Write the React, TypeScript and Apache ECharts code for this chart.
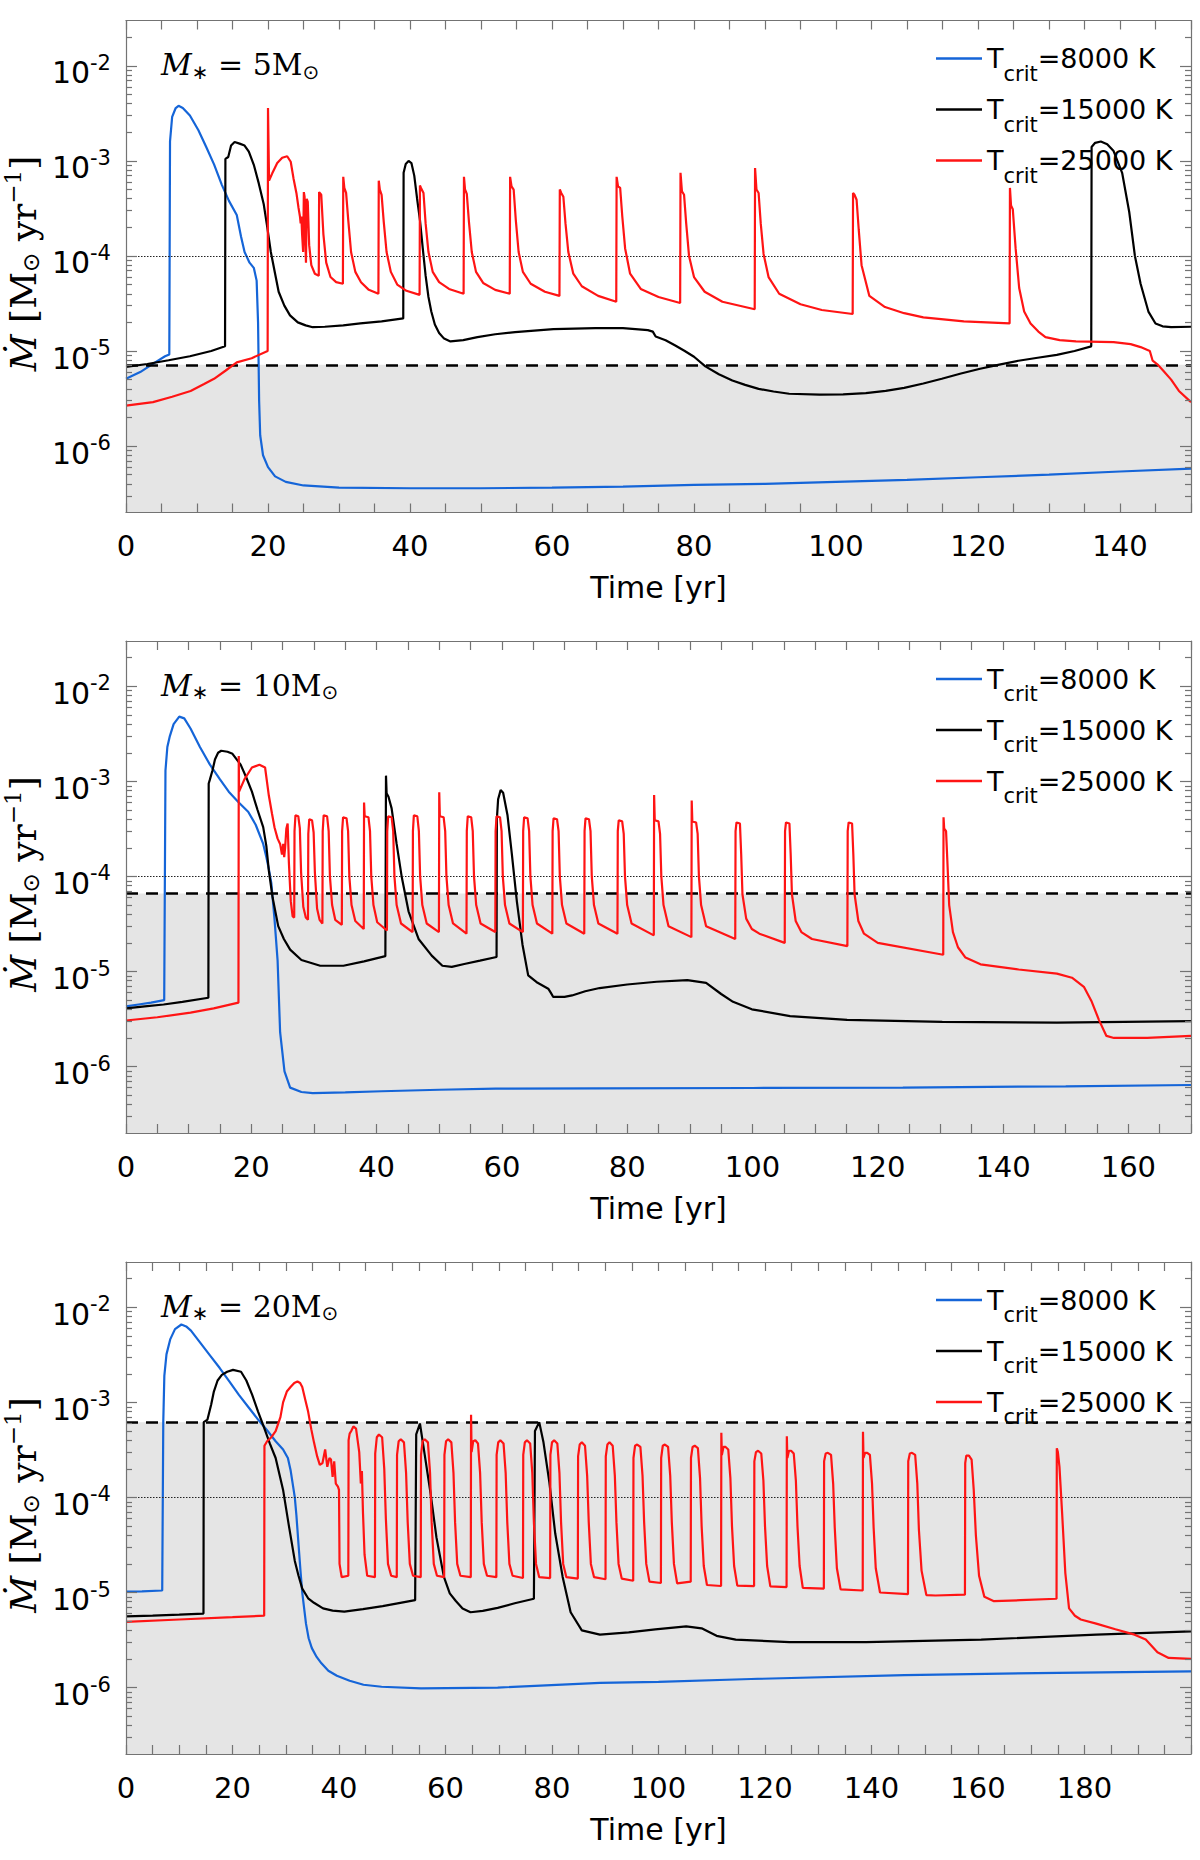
import React, { useEffect, useRef } from 'react';
import * as echarts from 'echarts';

// y range of every panel, in M_sun / yr
const Y_MIN = 2e-7;
const Y_MAX = 3e-2;

const legendNames = ['T_crit=8000 K', 'T_crit=15000 K', 'T_crit=25000 K'];
const lineColors = ['#1565d8', '#000000', '#ff1414'];
const panelMasses = ['5', '10', '20'];
const xMaxes = [150, 170, 200];
const xLabels1 = [0, 20, 40, 60, 80, 100, 120, 140];
const xLabels2 = [0, 20, 40, 60, 80, 100, 120, 140, 160];
const xLabels3 = [0, 20, 40, 60, 80, 100, 120, 140, 160, 180];
const yTickExps = [-6, -5, -4, -3, -2];
const thresholds = [7.15e-6, 6.6e-5, 6.2e-4]; // dashed line = top of the grey band
const refLine = 1e-4; // dotted line

// ---- M* = 5 Msun ----
const p1Blue: [number, number][] = [
  [0, 5.1e-6], [2, 6.0e-6], [4, 7.5e-6], [5.5, 8.8e-6], [6.1, 9.2e-6], [6.2, 1.6e-3], [6.5, 2.9e-3], [7.0, 3.6e-3],
  [7.4, 3.8e-3], [8.0, 3.6e-3], [9.0, 3.0e-3], [10.2, 2.1e-3], [11.3, 1.4e-3], [12.4, 9.2e-4], [13.5, 5.6e-4],
  [14.5, 3.8e-4], [15.6, 2.7e-4], [16.2, 1.6e-4], [16.7, 1.1e-4], [17.4, 8.5e-5], [18.0, 7.5e-5], [18.4, 5.5e-5],
  [18.6, 2.0e-5], [18.75, 3.0e-6], [18.9, 1.3e-6], [19.3, 8.0e-7], [20, 6.0e-7], [21, 4.8e-7], [22.5, 4.2e-7],
  [25, 3.85e-7], [30, 3.65e-7], [40, 3.6e-7], [50, 3.6e-7], [60, 3.65e-7], [70, 3.75e-7], [80, 3.9e-7], [90, 4.0e-7],
  [100, 4.2e-7], [110, 4.4e-7], [120, 4.7e-7], [130, 5.0e-7], [140, 5.4e-7], [150, 5.8e-7],
];
const p1Black: [number, number][] = [
  [0, 6.8e-6], [3, 7.3e-6], [6, 8.0e-6], [9, 8.8e-6], [12, 1.0e-5], [13.95, 1.12e-5],
  [14.0, 1.05e-3], [14.4, 1.1e-3], [14.8, 1.45e-3], [15.3, 1.58e-3], [16.0, 1.52e-3], [16.7, 1.45e-3], [17.3, 1.25e-3],
  [18.0, 9.1e-4], [18.7, 5.8e-4], [19.4, 3.5e-4], [19.9, 2.0e-4], [20.4, 1.1e-4], [21.0, 6.5e-5], [21.5, 4.2e-5],
  [22.3, 3.0e-5], [23.1, 2.37e-5], [24.2, 2.0e-5], [25.3, 1.86e-5], [26.3, 1.78e-5], [28.0, 1.8e-5], [30.6, 1.86e-5],
  [33.0, 1.95e-5], [36.0, 2.05e-5], [39.05, 2.2e-5],
  [39.1, 7.5e-4], [39.4, 9.3e-4], [39.8, 1.0e-3], [40.2, 9.5e-4], [40.6, 7.0e-4], [41.0, 4.0e-4], [41.4, 2.4e-4],
  [41.8, 1.2e-4], [42.2, 6.2e-5], [42.6, 3.7e-5], [43.0, 2.6e-5], [43.5, 1.9e-5], [44.1, 1.55e-5], [44.8, 1.35e-5],
  [45.7, 1.26e-5], [47.5, 1.3e-5], [49.5, 1.4e-5], [52.0, 1.5e-5], [54.8, 1.58e-5], [60.2, 1.7e-5], [66.1, 1.74e-5],
  [70.0, 1.74e-5], [73.5, 1.66e-5], [74.2, 1.6e-5], [74.6, 1.42e-5], [76.0, 1.3e-5], [77.3, 1.15e-5], [78.7, 1.0e-5],
  [80.0, 8.7e-6], [81.6, 6.9e-6], [83.5, 5.7e-6], [85.4, 4.9e-6], [87.2, 4.4e-6], [89.1, 4.0e-6], [91.2, 3.75e-6],
  [93.4, 3.55e-6], [97.7, 3.47e-6], [101.0, 3.5e-6], [104.2, 3.6e-6], [107.0, 3.8e-6], [109.6, 4.1e-6],
  [112.3, 4.55e-6], [114.9, 5.1e-6], [117.6, 5.8e-6], [120.3, 6.5e-6], [123.0, 7.2e-6], [125.7, 7.9e-6],
  [128.4, 8.5e-6], [131.1, 9.1e-6], [133.6, 1.0e-5], [135.95, 1.12e-5],
  [136.0, 1.4e-3], [136.5, 1.55e-3], [137.3, 1.6e-3], [138.2, 1.5e-3], [139.1, 1.27e-3], [140.3, 7.5e-4],
  [141.3, 2.9e-4], [142.1, 1.0e-4], [142.9, 5.1e-5], [144.0, 2.6e-5], [145.0, 1.95e-5], [146.0, 1.82e-5],
  [147.2, 1.78e-5], [150, 1.8e-5],
];
const p1Red: [number, number][] = [
  [0, 2.66e-6], [3.8, 2.9e-6], [6.5, 3.3e-6], [9.1, 3.8e-6], [11, 4.5e-6], [12.4, 5.1e-6], [14, 6.2e-6],
  [15.6, 7.6e-6], [17.7, 8.4e-6], [19.95, 1.0e-5],
  [20.0, 3.6e-3], [20.08, 1.4e-3], [20.15, 6.2e-4], [20.6, 7.4e-4], [21.3, 9.5e-4], [22.0, 1.08e-3], [22.7, 1.12e-3],
  [23.2, 9.8e-4], [23.6, 6.5e-4], [24.0, 4.6e-4], [24.3, 3.2e-4], [24.5, 2.6e-4], [24.6, 2.2e-4], [24.7, 2.6e-4],
  [24.8, 1.7e-4], [24.95, 1.1e-4], [25.05, 4.7e-4], [25.15, 4.2e-4], [25.25, 1.5e-4], [25.35, 8.5e-5],
  [25.45, 4.0e-4], [25.6, 3.7e-4], [25.8, 1.3e-4], [26.1, 8.0e-5], [26.6, 6.5e-5], [27.15, 6.2e-5],
  [27.2, 4.7e-4], [27.5, 4.4e-4], [27.8, 1.7e-4], [28.2, 8.5e-5], [28.8, 6.0e-5], [29.6, 5.3e-5], [30.55, 5.1e-5],
  [30.6, 6.8e-4], [30.75, 5.2e-4], [31.0, 4.6e-4], [31.3, 2.4e-4], [31.7, 1.1e-4], [32.3, 6.8e-5], [33.1, 5.3e-5],
  [34.2, 4.4e-5], [35.55, 4.0e-5],
  [35.6, 6.2e-4], [35.75, 5.0e-4], [36.0, 4.4e-4], [36.3, 2.3e-4], [36.7, 1.1e-4], [37.3, 6.8e-5], [38.2, 5.0e-5],
  [39.5, 4.3e-5], [41.35, 3.9e-5],
  [41.4, 5.5e-4], [41.55, 5.2e-4], [41.9, 4.6e-4], [42.2, 2.2e-4], [42.6, 1.1e-4], [43.2, 6.8e-5], [44.1, 5.3e-5],
  [45.5, 4.5e-5], [47.55, 4.0e-5],
  [47.6, 6.8e-4], [47.75, 5.0e-4], [48.0, 4.5e-4], [48.3, 2.3e-4], [48.7, 1.1e-4], [49.3, 6.8e-5], [50.3, 5.2e-5],
  [52.0, 4.4e-5], [54.05, 4.0e-5],
  [54.1, 6.8e-4], [54.3, 5.4e-4], [54.6, 5.0e-4], [54.9, 2.4e-4], [55.3, 1.1e-4], [55.9, 6.8e-5], [57.0, 5.1e-5],
  [59.0, 4.2e-5], [61.05, 3.8e-5],
  [61.1, 5.0e-4], [61.3, 4.6e-4], [61.6, 4.2e-4], [61.9, 2.2e-4], [62.3, 1.1e-4], [63.0, 6.5e-5], [64.2, 4.8e-5],
  [66.5, 3.8e-5], [69.05, 3.3e-5],
  [69.1, 6.8e-4], [69.3, 5.4e-4], [69.6, 5.2e-4], [69.9, 2.6e-4], [70.3, 1.2e-4], [71.0, 6.5e-5], [72.5, 4.5e-5],
  [75.0, 3.7e-5], [78.05, 3.2e-5],
  [78.1, 7.5e-4], [78.3, 4.8e-4], [78.6, 4.4e-4], [78.9, 2.2e-4], [79.3, 1.0e-4], [80.0, 6.0e-5], [81.5, 4.2e-5],
  [84.0, 3.3e-5], [88.55, 2.75e-5],
  [88.6, 8.4e-4], [88.8, 5.0e-4], [89.1, 4.6e-4], [89.4, 2.2e-4], [89.8, 1.05e-4], [90.5, 6.0e-5], [92.0, 4.0e-5],
  [95.0, 3.1e-5], [98.0, 2.7e-5], [102.35, 2.45e-5],
  [102.4, 4.6e-4], [102.6, 4.4e-4], [102.9, 3.9e-4], [103.2, 1.9e-4], [103.6, 8.0e-5], [104.7, 3.8e-5],
  [106.9, 2.9e-5], [109.6, 2.5e-5], [112.3, 2.26e-5], [118.0, 2.05e-5], [124.45, 1.95e-5],
  [124.5, 5.2e-4], [124.65, 3.4e-4], [124.9, 3.1e-4], [125.3, 1.2e-4], [125.8, 4.6e-5], [126.5, 2.6e-5],
  [127.4, 1.95e-5], [128.5, 1.6e-5], [129.5, 1.4e-5], [131.5, 1.3e-5], [133.8, 1.26e-5], [139.1, 1.24e-5],
  [141.5, 1.18e-5], [142.9, 1.1e-5], [144.2, 1.0e-5], [144.6, 7.9e-6], [145.3, 7.2e-6], [146.1, 6.2e-6],
  [147.2, 5.0e-6], [148.3, 3.8e-6], [150, 2.9e-6],
];

// ---- M* = 10 Msun ----
const p2Blue: [number, number][] = [
  [0, 4.3e-6], [2, 4.5e-6], [4, 4.7e-6], [6.1, 5.0e-6], [6.3, 1.3e-3], [6.6, 2.3e-3], [7.0, 3.0e-3], [7.6, 4.0e-3],
  [8.5, 4.8e-3], [9.3, 4.6e-3], [10.3, 3.6e-3], [11.8, 2.3e-3], [13.4, 1.5e-3], [15.0, 1.05e-3], [16.4, 7.8e-4],
  [18.0, 6.0e-4], [19.5, 4.8e-4], [20.7, 3.5e-4], [21.9, 2.2e-4], [22.4, 1.6e-4], [22.8, 1.2e-4], [23.2, 8.5e-5],
  [23.7, 3.6e-5], [24.2, 1.3e-5], [24.6, 2.3e-6], [25.3, 8.9e-7], [26.2, 6.0e-7], [28, 5.4e-7], [29.8, 5.25e-7],
  [35, 5.35e-7], [40.8, 5.5e-7], [50, 5.7e-7], [59, 5.85e-7], [75.6, 5.9e-7], [100, 5.95e-7], [124, 6.0e-7],
  [150, 6.2e-7], [170, 6.4e-7],
];
const p2Black: [number, number][] = [
  [0, 4.1e-6], [3, 4.3e-6], [6, 4.5e-6], [9, 4.8e-6], [13.15, 5.3e-6],
  [13.2, 9.5e-4], [13.4, 1.05e-3], [13.8, 1.3e-3], [14.2, 1.7e-3], [14.7, 2.0e-3], [15.2, 2.1e-3], [16.2, 2.05e-3],
  [17.0, 1.95e-3], [18.3, 1.5e-3], [19.2, 1.1e-3], [20.1, 7.8e-4], [21.0, 5.0e-4], [21.9, 3.3e-4], [22.4, 2.1e-4],
  [22.8, 1.15e-4], [23.4, 6.0e-5], [24.3, 3.0e-5], [25.2, 2.2e-5], [26.2, 1.7e-5], [28.0, 1.32e-5], [31.0, 1.15e-5],
  [34.7, 1.15e-5], [38.0, 1.28e-5], [41.4, 1.45e-5],
  [41.5, 1.15e-3], [41.6, 7.5e-4], [41.9, 6.9e-4], [42.4, 5.2e-4], [43.2, 2.2e-4], [44.0, 1.0e-4], [45.1, 4.3e-5],
  [46.7, 2.2e-5], [48.8, 1.47e-5], [50.5, 1.15e-5], [52.0, 1.12e-5], [54.0, 1.2e-5], [56.5, 1.3e-5], [59.15, 1.42e-5],
  [59.2, 4.0e-4], [59.4, 6.5e-4], [59.8, 8.1e-4], [60.2, 7.6e-4], [60.9, 4.4e-4], [61.6, 1.7e-4], [62.4, 5.4e-5],
  [63.3, 1.9e-5], [64.2, 9.1e-6], [65.7, 7.6e-6], [67.4, 6.6e-6], [67.8, 6.0e-6], [68.2, 5.4e-6], [70.0, 5.4e-6],
  [71.2, 5.6e-6], [73.3, 6.2e-6], [75.6, 6.7e-6], [80, 7.3e-6], [84.7, 7.8e-6], [89.6, 8.1e-6], [92.6, 7.6e-6],
  [95.0, 5.8e-6], [96.9, 4.8e-6], [99.9, 4.0e-6], [106, 3.4e-6], [115.1, 3.1e-6], [130.3, 2.95e-6], [148.6, 2.9e-6],
  [170, 3.0e-6],
];
const p2Red: [number, number][] = [
  [0, 3.05e-6], [5, 3.3e-6], [10.3, 3.7e-6], [14, 4.1e-6], [17.95, 4.7e-6],
  [18.0, 1.85e-3], [18.05, 7.8e-4], [18.9, 1.05e-3], [20.1, 1.4e-3], [21.3, 1.5e-3], [22.2, 1.4e-3], [22.8, 7.1e-4],
  [23.3, 4.6e-4], [23.7, 3.3e-4], [24.2, 2.5e-4], [24.6, 2.2e-4], [24.9, 1.7e-4], [25.1, 2.2e-4], [25.25, 1.6e-4],
  [25.4, 2.0e-4], [25.6, 3.2e-4], [25.8, 3.6e-4], [26.0, 1.4e-4], [26.3, 5.5e-5], [26.6, 3.8e-5], [26.85, 3.7e-5],
  [26.9, 3.0e-4], [27.05, 4.4e-4], [27.5, 4.3e-4], [27.75, 3.2e-4], [27.95, 1.1e-4], [28.3, 4.8e-5], [28.7, 3.7e-5], [29.05, 3.5e-5],
  [29.1, 2.8e-4], [29.25, 4.0e-4], [29.7, 3.9e-4], [29.95, 2.9e-4], [30.15, 1.1e-4], [30.5, 4.6e-5], [30.9, 3.5e-5], [31.35, 3.2e-5],
  [31.4, 3.0e-4], [31.55, 4.4e-4], [32.1, 4.3e-4], [32.35, 3.0e-4], [32.55, 1.0e-4], [32.9, 5.0e-5], [33.4, 3.5e-5], [34.45, 3.1e-5],
  [34.5, 3.0e-4], [34.65, 4.2e-4], [35.2, 4.1e-4], [35.45, 3.0e-4], [35.65, 1.0e-4], [36.0, 5.0e-5], [36.6, 3.4e-5], [37.95, 2.8e-5],
  [38.0, 6.0e-4], [38.1, 4.3e-4], [38.7, 4.2e-4], [38.95, 3.0e-4], [39.15, 1.0e-4], [39.5, 5.0e-5], [40.1, 3.3e-5], [41.65, 2.7e-5],
  [41.7, 3.0e-4], [41.85, 4.3e-4], [42.4, 4.2e-4], [42.65, 3.0e-4], [42.85, 1.0e-4], [43.2, 5.0e-5], [43.9, 3.2e-5], [45.75, 2.6e-5],
  [45.8, 3.0e-4], [45.95, 4.4e-4], [46.5, 4.3e-4], [46.75, 3.0e-4], [46.95, 1.0e-4], [47.3, 5.0e-5], [48.0, 3.2e-5], [49.95, 2.6e-5],
  [50.0, 7.7e-4], [50.1, 4.3e-4], [50.7, 4.2e-4], [50.95, 3.0e-4], [51.15, 1.0e-4], [51.5, 5.0e-5], [52.2, 3.2e-5], [54.35, 2.5e-5],
  [54.4, 3.0e-4], [54.55, 4.3e-4], [55.1, 4.2e-4], [55.35, 3.0e-4], [55.55, 1.0e-4], [55.9, 5.0e-5], [56.6, 3.2e-5], [58.95, 2.6e-5],
  [59.0, 3.0e-4], [59.15, 4.3e-4], [59.7, 4.2e-4], [59.95, 3.0e-4], [60.15, 1.0e-4], [60.5, 5.0e-5], [61.2, 3.2e-5], [63.35, 2.6e-5],
  [63.4, 3.0e-4], [63.55, 4.2e-4], [64.1, 4.1e-4], [64.35, 3.0e-4], [64.55, 1.0e-4], [64.9, 5.0e-5], [65.6, 3.2e-5], [68.05, 2.5e-5],
  [68.1, 3.0e-4], [68.25, 4.1e-4], [68.8, 4.0e-4], [69.05, 3.0e-4], [69.25, 1.0e-4], [69.6, 5.0e-5], [70.3, 3.2e-5], [73.15, 2.5e-5],
  [73.2, 3.0e-4], [73.35, 4.1e-4], [73.9, 4.0e-4], [74.15, 3.0e-4], [74.35, 1.0e-4], [74.7, 5.0e-5], [75.4, 3.2e-5], [78.45, 2.5e-5],
  [78.5, 3.0e-4], [78.65, 3.9e-4], [79.2, 3.8e-4], [79.45, 2.8e-4], [79.65, 1.0e-4], [80.0, 5.0e-5], [80.7, 3.2e-5], [84.25, 2.4e-5],
  [84.3, 7.2e-4], [84.4, 3.9e-4], [85.0, 3.8e-4], [85.25, 2.8e-4], [85.45, 1.0e-4], [85.8, 5.0e-5], [86.6, 3.0e-5], [90.25, 2.3e-5],
  [90.3, 6.3e-4], [90.4, 3.8e-4], [91.0, 3.7e-4], [91.25, 2.8e-4], [91.45, 1.0e-4], [91.8, 5.0e-5], [92.6, 3.0e-5], [97.25, 2.2e-5],
  [97.3, 3.0e-4], [97.45, 3.7e-4], [98.0, 3.6e-4], [98.2, 1.7e-4], [98.4, 6.5e-5], [99.0, 3.6e-5], [99.9, 2.8e-5],
  [101.1, 2.5e-5], [105.15, 2.0e-5],
  [105.2, 3.0e-4], [105.35, 3.7e-4], [105.9, 3.6e-4], [106.1, 1.7e-4], [106.3, 6.5e-5], [106.9, 3.4e-5],
  [107.8, 2.6e-5], [109.5, 2.2e-5], [115.15, 1.85e-5],
  [115.2, 3.0e-4], [115.35, 3.7e-4], [115.9, 3.6e-4], [116.1, 1.7e-4], [116.3, 6.5e-5], [116.9, 3.4e-5],
  [117.8, 2.5e-5], [120, 2.0e-5], [130.45, 1.5e-5],
  [130.5, 4.2e-4], [130.6, 3.2e-4], [130.9, 3.0e-4], [131.1, 1.5e-4], [131.4, 5.0e-5], [132.0, 2.6e-5],
  [132.8, 1.8e-5], [134, 1.4e-5], [136.4, 1.19e-5], [142.5, 1.05e-5], [148.6, 9.5e-6], [151, 8.6e-6],
  [152.9, 6.9e-6], [154.1, 4.9e-6], [155.3, 3.1e-6], [156.5, 2.1e-6], [157.7, 2.0e-6], [163, 2.0e-6], [170, 2.1e-6],
];

// ---- M* = 20 Msun ----
const p3Blue: [number, number][] = [
  [0, 1.02e-5], [3, 1.03e-5], [6.8, 1.05e-5], [7.0, 6.2e-4], [7.2, 1.9e-3], [7.6, 3.2e-3], [8.3, 4.6e-3], [9.2, 5.9e-3],
  [10.4, 6.6e-3], [11.3, 6.3e-3], [12.2, 5.7e-3], [14, 4.2e-3], [15.8, 3.1e-3], [17.6, 2.3e-3], [19.4, 1.66e-3],
  [21.2, 1.2e-3], [23, 8.9e-4], [24.8, 6.6e-4], [26.6, 5.0e-4], [28.1, 3.9e-4], [29.5, 3.2e-4], [30.4, 2.6e-4],
  [30.9, 1.95e-4], [31.3, 1.4e-4], [31.7, 1.0e-4], [32.0, 6.5e-5], [32.4, 3.2e-5], [32.8, 1.6e-5], [33.1, 1.0e-5],
  [33.5, 6.5e-6], [33.8, 4.7e-6], [34.3, 3.3e-6], [34.9, 2.6e-6], [35.8, 2.1e-6], [36.7, 1.8e-6], [38, 1.5e-6],
  [39.6, 1.33e-6], [42, 1.18e-6], [44.6, 1.07e-6], [48, 1.02e-6], [55.4, 9.8e-7], [69.8, 1.0e-6], [89, 1.12e-6],
  [100, 1.15e-6], [117.4, 1.23e-6], [146.2, 1.35e-6], [175, 1.43e-6], [200, 1.48e-6],
];
const p3Black: [number, number][] = [
  [0, 5.6e-6], [5, 5.7e-6], [10, 5.85e-6], [14.55, 6.0e-6],
  [14.6, 6.2e-4], [15.3, 6.6e-4], [16.0, 9.5e-4], [16.5, 1.3e-3], [17.2, 1.7e-3], [18.0, 1.95e-3], [19.0, 2.1e-3],
  [20.1, 2.2e-3], [21.6, 2.1e-3], [22.6, 1.7e-3], [23.7, 1.2e-3], [24.8, 8.0e-4], [25.9, 5.5e-4], [27.0, 3.7e-4],
  [28.1, 2.6e-4], [29.5, 1.2e-4], [30.6, 5.0e-5], [31.7, 2.15e-5], [32.4, 1.5e-5], [33.1, 1.1e-5], [34.2, 8.7e-6],
  [35.3, 7.8e-6], [37, 6.8e-6], [38.8, 6.45e-6], [41, 6.3e-6], [44.5, 6.7e-6], [48.2, 7.2e-6], [51, 7.7e-6],
  [54.3, 8.3e-6],
  [54.5, 4.6e-4], [55.2, 6.0e-4], [56.1, 2.8e-4], [57.2, 1.1e-4], [58.3, 3.8e-5], [59.7, 1.46e-5], [60.8, 9.8e-6],
  [61.9, 8.2e-6], [63.2, 6.8e-6], [64.7, 6.2e-6], [67, 6.4e-6], [69.8, 6.9e-6], [73, 7.7e-6], [76.6, 8.6e-6],
  [76.8, 5.0e-4], [77.6, 6.2e-4], [78.4, 3.8e-4], [79.5, 1.45e-4], [80.6, 4.2e-5], [82.0, 1.46e-5], [83.5, 6.2e-6],
  [85.6, 4.0e-6], [89, 3.6e-6], [94.4, 3.8e-6], [99.4, 4.1e-6], [105.2, 4.4e-6], [108.1, 4.2e-6], [110.9, 3.5e-6],
  [114.5, 3.2e-6], [124.6, 3.0e-6], [139, 3.0e-6], [160.6, 3.2e-6], [182.2, 3.6e-6], [200, 3.9e-6],
];
const p3Red: [number, number][] = [
  [0, 4.9e-6], [10, 5.2e-6], [20, 5.5e-6], [25.95, 5.7e-6],
  [26.0, 3.5e-4], [26.5, 3.9e-4], [27.3, 4.3e-4], [28.1, 5.0e-4], [29.0, 7.0e-4], [29.5, 1.0e-3], [30.2, 1.3e-3],
  [30.9, 1.45e-3], [31.6, 1.6e-3], [32.2, 1.66e-3], [32.7, 1.6e-3], [33.1, 1.45e-3], [33.7, 1.05e-3], [34.2, 8.0e-4],
  [34.8, 5.2e-4], [35.3, 3.8e-4], [35.9, 2.7e-4], [36.4, 2.2e-4], [36.9, 2.3e-4], [37.4, 3.2e-4], [37.8, 2.1e-4],
  [38.2, 2.6e-4], [38.5, 2.5e-4], [38.8, 1.65e-4], [39.1, 2.4e-4], [39.4, 1.4e-4], [39.8, 1.3e-4], [40.0, 1.2e-4],
  [40.1, 2.0e-5], [40.5, 1.45e-5], [41.75, 1.5e-5],
  [41.8, 4.0e-4], [42.0, 4.7e-4], [42.3, 5.0e-4], [42.7, 5.6e-4], [43.2, 5.3e-4], [43.8, 3.0e-4], [44.1, 1.4e-4],
  [44.3, 1.9e-4], [44.5, 7.0e-5], [44.8, 2.5e-5], [45.3, 1.5e-5], [46.75, 1.45e-5],
  [46.8, 2.9e-4], [47.1, 4.3e-4], [47.5, 4.6e-4], [48.1, 4.3e-4], [48.5, 2.0e-4], [48.8, 6.0e-5], [49.2, 2.0e-5], [49.8, 1.5e-5], [50.85, 1.45e-5],
  [50.9, 2.8e-4], [51.2, 3.9e-4], [51.6, 4.1e-4], [52.2, 3.8e-4], [52.6, 1.8e-4], [52.9, 5.5e-5], [53.3, 2.0e-5], [53.9, 1.5e-5], [55.35, 1.45e-5],
  [55.4, 2.8e-4], [55.7, 3.9e-4], [56.1, 4.1e-4], [56.7, 3.8e-4], [57.1, 1.8e-4], [57.4, 5.5e-5], [57.8, 2.0e-5], [58.4, 1.5e-5], [59.75, 1.45e-5],
  [59.8, 2.8e-4], [60.1, 3.9e-4], [60.5, 4.1e-4], [61.1, 3.8e-4], [61.5, 1.8e-4], [61.8, 5.5e-5], [62.2, 2.0e-5], [62.8, 1.5e-5], [64.75, 1.45e-5],
  [64.8, 7.4e-4], [64.9, 3.0e-4], [65.2, 3.9e-4], [65.6, 4.0e-4], [66.1, 3.7e-4], [66.5, 1.8e-4], [66.8, 5.5e-5], [67.2, 2.0e-5], [67.8, 1.5e-5], [69.55, 1.45e-5],
  [69.6, 2.8e-4], [69.9, 3.8e-4], [70.3, 4.0e-4], [70.9, 3.7e-4], [71.3, 1.8e-4], [71.6, 5.5e-5], [72.0, 2.0e-5], [72.6, 1.5e-5], [74.55, 1.42e-5],
  [74.6, 2.8e-4], [74.9, 3.8e-4], [75.3, 4.0e-4], [75.9, 3.7e-4], [76.3, 1.8e-4], [76.6, 5.5e-5], [77.0, 2.0e-5], [77.6, 1.45e-5], [79.65, 1.42e-5],
  [79.7, 2.8e-4], [80.0, 3.8e-4], [80.4, 4.0e-4], [81.0, 3.7e-4], [81.4, 1.8e-4], [81.7, 5.5e-5], [82.1, 2.0e-5], [82.7, 1.45e-5], [84.85, 1.4e-5],
  [84.9, 2.7e-4], [85.2, 3.6e-4], [85.6, 3.8e-4], [86.2, 3.5e-4], [86.6, 1.7e-4], [86.9, 5.5e-5], [87.3, 2.0e-5], [87.9, 1.45e-5], [90.05, 1.38e-5],
  [90.1, 2.7e-4], [90.4, 3.6e-4], [90.8, 3.8e-4], [91.4, 3.5e-4], [91.8, 1.7e-4], [92.1, 5.5e-5], [92.5, 2.0e-5], [93.1, 1.4e-5], [95.25, 1.33e-5],
  [95.3, 2.6e-4], [95.6, 3.5e-4], [96.0, 3.6e-4], [96.6, 3.4e-4], [97.0, 1.7e-4], [97.3, 5.5e-5], [97.7, 2.0e-5], [98.3, 1.3e-5], [100.45, 1.26e-5],
  [100.5, 2.6e-4], [100.8, 3.5e-4], [101.2, 3.6e-4], [101.8, 3.4e-4], [102.2, 1.7e-4], [102.5, 5.5e-5], [102.9, 2.0e-5], [103.5, 1.25e-5], [106.05, 1.3e-5],
  [106.1, 2.6e-4], [106.4, 3.4e-4], [106.8, 3.5e-4], [107.4, 3.3e-4], [107.8, 1.6e-4], [108.1, 5.0e-5], [108.5, 1.9e-5], [109.1, 1.2e-5], [111.75, 1.17e-5],
  [111.8, 4.8e-4], [111.9, 2.8e-4], [112.2, 3.4e-4], [112.6, 3.4e-4], [113.1, 3.2e-4], [113.5, 1.6e-4], [113.8, 5.0e-5], [114.2, 1.9e-5], [114.8, 1.18e-5], [117.95, 1.17e-5],
  [118.0, 2.4e-4], [118.3, 3.0e-4], [118.7, 3.1e-4], [119.3, 2.9e-4], [119.7, 1.5e-4], [120.0, 5.0e-5], [120.4, 1.9e-5], [121.0, 1.16e-5], [124.05, 1.14e-5],
  [124.1, 4.4e-4], [124.2, 2.6e-4], [124.5, 3.1e-4], [124.9, 3.1e-4], [125.4, 2.9e-4], [125.8, 1.5e-4], [126.1, 5.0e-5], [126.5, 1.9e-5], [127.1, 1.12e-5], [131.05, 1.1e-5],
  [131.1, 2.4e-4], [131.4, 2.9e-4], [131.8, 2.95e-4], [132.4, 2.8e-4], [132.8, 1.4e-4], [133.1, 4.8e-5], [133.5, 1.8e-5], [134.2, 1.08e-5], [138.35, 1.05e-5],
  [138.4, 4.9e-4], [138.5, 2.6e-4], [138.8, 2.95e-4], [139.2, 2.95e-4], [139.7, 2.8e-4], [140.1, 1.4e-4], [140.4, 4.8e-5], [140.8, 1.8e-5], [141.6, 1.0e-5], [146.85, 9.6e-6],
  [146.9, 2.4e-4], [147.2, 2.9e-4], [147.6, 2.95e-4], [148.2, 2.8e-4], [148.6, 1.4e-4], [148.9, 4.6e-5], [149.4, 1.7e-5], [150.3, 9.4e-6], [152, 9.3e-6], [157.55, 9.5e-6],
  [157.6, 2.3e-4], [157.8, 2.75e-4], [158.3, 2.75e-4], [158.8, 2.5e-4], [159.2, 1.2e-4], [159.6, 4.0e-5], [160.2, 1.5e-5], [161.2, 9.0e-6], [163, 8.1e-6], [168, 8.3e-6], [174.75, 8.6e-6],
  [174.8, 3.3e-4], [175.0, 3.0e-4], [175.3, 2.1e-4], [175.8, 6.8e-5], [176.4, 1.6e-5], [177.1, 6.8e-6], [178.2, 5.7e-6],
  [179.3, 5.2e-6], [182.2, 4.7e-6], [185.8, 4.1e-6], [189.4, 3.6e-6], [191.5, 3.2e-6], [193.7, 2.35e-6], [195.8, 2.05e-6], [200, 2.0e-6],
];

const panelSeries = [
  [p1Blue, p1Black, p1Red],
  [p2Blue, p2Black, p2Red],
  [p3Blue, p3Black, p3Red],
];
const panelXLabels = [xLabels1, xLabels2, xLabels3];

// layout
const GRID_LEFT = 126;
const GRID_RIGHT = 9;
const GRID_H = 492;
const GRID_TOPS = [20.5, 641, 1262];

const SANS = '"DejaVu Sans", sans-serif';
const SERIF = '"DejaVu Serif", serif';
const FRAME = '#737373';

const yLo = Math.log10(Y_MIN);
const yHi = Math.log10(Y_MAX);
const minorY: number[] = [];
for (let e = -7; e <= -2; e++) {
  for (let k = 2; k <= 9; k++) {
    const v = e + Math.log10(k);
    if (v > yLo && v < yHi) minorY.push(v);
  }
}
const everyFive = (max: number) => {
  const out: number[] = [];
  for (let t = 0; t <= max; t += 5) out.push(t);
  return out;
};

function buildOption() {
  const grid: any[] = [];
  const xAxis: any[] = [];
  const yAxis: any[] = [];
  const series: any[] = [];
  const legend: any[] = [];
  const graphic: any[] = [];
  const tickLine = { color: FRAME, width: 1.2 };

  GRID_TOPS.forEach((top, i) => {
    grid.push({ left: GRID_LEFT, right: GRID_RIGHT, top, height: GRID_H });
    const ticks5 = everyFive(xMaxes[i]);
    xAxis.push({
      type: 'value', gridIndex: i, min: 0, max: xMaxes[i], position: 'bottom', z: 6,
      axisLine: { show: true, onZero: false, lineStyle: tickLine },
      axisTick: { show: true, inside: true, length: 9, customValues: ticks5, lineStyle: tickLine },
      axisLabel: { customValues: panelXLabels[i], margin: 19, fontSize: 29, fontFamily: SANS, color: '#000' },
      splitLine: { show: false },
      name: 'Time [yr]', nameLocation: 'middle', nameGap: 60,
      nameTextStyle: { fontSize: 30, fontFamily: SANS, color: '#000' },
    });
    xAxis.push({
      type: 'value', gridIndex: i, min: 0, max: xMaxes[i], position: 'top', z: 6,
      axisLine: { show: true, onZero: false, lineStyle: tickLine },
      axisTick: { show: true, inside: true, length: 9, customValues: ticks5, lineStyle: tickLine },
      axisLabel: { show: false }, splitLine: { show: false },
    });
    const yBase = { type: 'value', gridIndex: i, min: yLo, max: yHi, z: 6, splitLine: { show: false } };
    yAxis.push({
      ...yBase, position: 'left',
      axisLine: { show: true, onZero: false, lineStyle: tickLine },
      axisTick: { show: true, inside: true, length: 11, customValues: yTickExps, lineStyle: tickLine },
      axisLabel: {
        customValues: yTickExps, margin: 15,
        formatter: (v: number) => `{b|10}{s|${Math.round(v)}}`,
        rich: {
          b: { fontSize: 30, fontFamily: SANS, color: '#000', lineHeight: 30, padding: [14, 0, 0, 0] },
          s: { fontSize: 21, fontFamily: SANS, color: '#000', lineHeight: 21, padding: [0, 0, 6, 0] },
        },
      },
    });
    yAxis.push({
      ...yBase, position: 'left', axisLine: { show: false, onZero: false },
      axisTick: { show: true, inside: true, length: 6, customValues: minorY, lineStyle: tickLine },
      axisLabel: { show: false },
    });
    yAxis.push({
      ...yBase, position: 'right', axisLine: { show: true, onZero: false, lineStyle: tickLine },
      axisTick: { show: true, inside: true, length: 11, customValues: yTickExps, lineStyle: tickLine },
      axisLabel: { show: false },
    });
    yAxis.push({
      ...yBase, position: 'right', axisLine: { show: false, onZero: false },
      axisTick: { show: true, inside: true, length: 6, customValues: minorY, lineStyle: tickLine },
      axisLabel: { show: false },
    });

    const xi = 2 * i;
    const yi = 4 * i;
    const thr = Math.log10(thresholds[i]);
    series.push({
      type: 'line', xAxisIndex: xi, yAxisIndex: yi, data: [], silent: true, z: 1,
      markArea: {
        silent: true, itemStyle: { color: '#e5e5e5' },
        data: [[{ yAxis: yLo }, { yAxis: thr }]],
      },
      markLine: {
        silent: true, symbol: 'none', label: { show: false },
        data: [
          { yAxis: thr, lineStyle: { color: '#000', width: 2.6, type: [12, 8] } },
          { yAxis: Math.log10(refLine), lineStyle: { color: '#222', width: 1, type: [1.5, 1.5] } },
        ],
      },
    });
    panelSeries[i].forEach((pts, j) => {
      series.push({
        type: 'line', name: legendNames[j], xAxisIndex: xi, yAxisIndex: yi,
        data: pts.map(([t, v]) => [t, Math.log10(v)]),
        showSymbol: false, symbol: 'none', color: lineColors[j],
        lineStyle: { color: lineColors[j], width: 2.2 }, z: 3 + j, silent: true,
      });
    });

    legend.push({
      data: legendNames, orient: 'vertical', left: 936, top: top + 12.5, height: 200, padding: 0,
      itemGap: 0, itemWidth: 46, itemHeight: 2.5, icon: 'rect', selectedMode: false, z: 2,
      formatter: (name: string) => `{t|T}{s|crit}{t|${name.slice(name.indexOf('='))}}`,
      textStyle: {
        color: '#000',
        rich: {
          t: { fontSize: 27, fontFamily: SANS, color: '#000', lineHeight: 30 },
          s: { fontSize: 21, fontFamily: SANS, color: '#000', lineHeight: 10, padding: [30, 0, 0, 0] },
        },
      },
    });

    graphic.push({
      type: 'text', x: 161, y: top + 44, z: 10,
      style: {
        text: `{m|M}{st|∗}{n| = ${panelMasses[i]}M}{o|⊙}`,
        verticalAlign: 'middle',
        rich: {
          m: { fontSize: 30, fontFamily: SERIF, fontStyle: 'italic', fill: '#000' },
          st: { fontSize: 20, fontFamily: SANS, fill: '#000', padding: [14, 0, 0, 0] },
          n: { fontSize: 30, fontFamily: SERIF, fill: '#000' },
          o: { fontSize: 20, fontFamily: SANS, fill: '#000', padding: [14, 0, 0, 0] },
        },
      },
    });
    graphic.push({
      type: 'text', x: 23, y: top + 243, rotation: Math.PI / 2, z: 10,
      style: {
        text: '{mi|Ṁ}{n| [M}{o|⊙}{n| yr}{sup|−1}{n|]}',
        align: 'center', verticalAlign: 'middle',
        rich: {
          mi: { fontSize: 36, fontFamily: SERIF, fontStyle: 'italic', fill: '#000' },
          n: { fontSize: 36, fontFamily: SERIF, fill: '#000' },
          o: { fontSize: 23, fontFamily: SANS, fill: '#000', padding: [16, 0, 0, 0] },
          sup: { fontSize: 23, fontFamily: SERIF, fill: '#000', padding: [0, 0, 20, 0] },
        },
      },
    });
  });

  return { animation: false, backgroundColor: '#fff', grid, xAxis, yAxis, series, legend, graphic };
}

export default function App() {
  const ref = useRef<HTMLDivElement | null>(null);

  useEffect(() => {
    document.body.style.margin = '0';
    if (!ref.current) return;
    const chart = echarts.init(ref.current, undefined, { renderer: 'svg' });
    chart.setOption(buildOption());
    return () => { chart.dispose(); };
  }, []);

  return <div ref={ref} style={{ width: 1200, height: 1860 }} />;
}
